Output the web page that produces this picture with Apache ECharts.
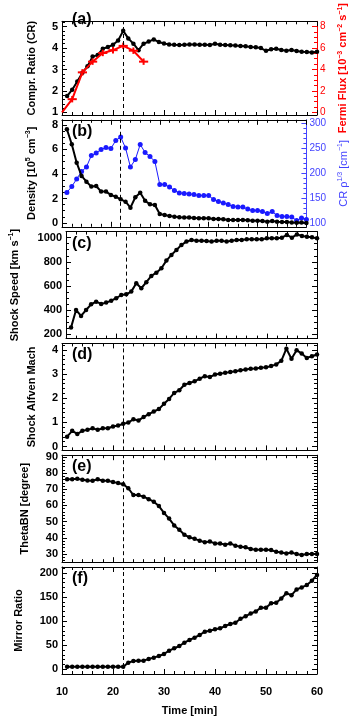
<!DOCTYPE html>
<html>
<head>
<meta charset="utf-8">
<script src="https://cdn.jsdelivr.net/npm/echarts@6/dist/echarts.min.js"></script>
<style>
  html, body { margin: 0; padding: 0; background: #fff; }
  #main { width: 359px; height: 717px; }
</style>
</head>
<body>
<div id="main"></div>
<script>
// time axis (minutes), one sample per minute
const time = [11, 12, 13, 14, 15, 16, 17, 18, 19, 20,
  21, 22, 23, 24, 25, 26, 27, 28, 29, 30,
  31, 32, 33, 34, 35, 36, 37, 38, 39, 40,
  41, 42, 43, 44, 45, 46, 47, 48, 49, 50,
  51, 52, 53, 54, 55, 56, 57, 58, 59, 60]
const shockTime = 22
const timeTicks = [10, 20, 30, 40, 50, 60]

// (a) compression ratio + Fermi flux
const comprRatio = [1.76, 2.06, 2.44, 2.85, 3.15, 3.6, 3.67, 3.97, 4.05, 4.15,
  4.35, 4.8, 4.45, 4.2, 3.9, 4.2, 4.3, 4.4, 4.28, 4.21,
  4.17, 4.15, 4.14, 4.15, 4.17, 4.17, 4.15, 4.15, 4.14, 4.2,
  4.15, 4.14, 4.13, 4.12, 4.1, 4.08, 4.05, 4.04, 4.0, 3.87,
  3.94, 3.97, 3.91, 3.87, 3.91, 3.86, 3.83, 3.82, 3.79, 3.83]
const fermiTime = [10, 12, 14, 16, 18, 20, 22, 24, 26]
const fermiFlux = [0, 1.23, 3.73, 4.73, 5.54, 5.8, 6.2, 5.75, 4.73]
const fermiTimeErr = [0, 0.9, 0.9, 0.9, 0.9, 0.9, 0.9, 0.9, 0.9]
const fermiFluxErr = [0, 0.3, 0.3, 0.3, 0.3, 0.3, 0.3, 0.3, 0.3]

// (b) density + CR rho^1/3
const density = [7.65, 6.42, 4.92, 3.84, 3.37, 2.97, 3.02, 2.56, 2.56, 2.29,
  2.15, 1.93, 1.74, 1.25, 2.1, 2.47, 1.82, 1.52, 1.47, 0.73,
  0.65, 0.57, 0.52, 0.46, 0.44, 0.44, 0.41, 0.38, 0.38, 0.38,
  0.33, 0.33, 0.30, 0.24, 0.24, 0.24, 0.24, 0.22, 0.19, 0.19,
  0.16, 0.11, 0.16, 0.11, 0.08, 0.08, 0.05, 0.03, 0.05, 0.0]
const crRho = [161, 173, 188, 203, 212, 235, 240, 247, 251, 249,
  265, 272, 250, 212, 227, 257, 241, 233, 223, 177,
  177, 172, 165, 160, 159, 158, 157, 155, 155, 155,
  147, 143, 140, 137, 133, 132, 132, 128, 125, 125,
  123, 119, 123, 115, 113, 113, 112, 105, 110, 107]

// (c) shock speed
const shockSpeed = [255, 401, 352, 401, 448, 470, 451, 462, 478, 498,
  525, 531, 553, 622, 581, 631, 683, 710, 746, 810,
  857, 898, 940, 967, 981, 975, 975, 972, 967, 975,
  975, 967, 975, 981, 981, 986, 986, 986, 986, 994,
  994, 994, 1000, 1022, 1000, 1027, 1014, 1008, 1003, 994]

// (d) shock Alfven Mach
const alfvenMach = [0.41, 0.65, 0.52, 0.65, 0.69, 0.76, 0.69, 0.76, 0.76, 0.83,
  0.87, 0.94, 0.99, 1.13, 1.08, 1.22, 1.34, 1.45, 1.55, 1.77,
  1.97, 2.22, 2.33, 2.56, 2.63, 2.70, 2.81, 2.91, 2.88, 2.98,
  3.01, 3.05, 3.09, 3.12, 3.16, 3.19, 3.22, 3.23, 3.26, 3.28,
  3.33, 3.40, 3.55, 4.05, 3.63, 3.99, 3.85, 3.67, 3.74, 3.81]

// (e) ThetaBN
const thetaBN = [76.2, 76.2, 76.4, 75.8, 75.4, 75.2, 76.2, 75.2, 75.2, 74.4,
  73.8, 73.1, 70.6, 66.4, 66.4, 65.4, 63.9, 62.3, 59.6, 55.4,
  51.9, 47.7, 45.0, 41.9, 40.4, 39.4, 38.3, 37.3, 37.7, 36.6,
  36.6, 35.8, 36.6, 35.2, 34.6, 34.2, 33.1, 32.7, 32.7, 32.7,
  32.5, 31.4, 31.0, 30.4, 31.0, 30.0, 29.4, 30.0, 30.0, 30.0]

// (f) mirror ratio
const mirrorRatio = [5.4, 5.4, 5.4, 5.4, 5.4, 5.4, 5.4, 5.4, 5.4, 5.4,
  5.4, 5.4, 13.8, 17.2, 17.9, 17.9, 21.4, 24.2, 27.7, 31.8,
  38.7, 43.6, 48.4, 55.3, 60.9, 65.7, 71.2, 78.1, 80.2, 83,
  85.1, 89.9, 94, 96.8, 105, 110, 116, 120, 128, 128,
  137, 138, 147, 158, 154, 166, 170, 175, 184, 196]

// tick labels
const comprTicks = [1, 2, 3, 4, 5]
const fermiTicks = [0, 2, 4, 6, 8]
const densityTicks = [0, 2, 4, 6, 8]
const crTicks = [100, 150, 200, 250, 300]
const speedTicks = [200, 400, 600, 800, 1000]
const machTicks = [0, 1, 2, 3, 4]
const thetaTicks = [30, 40, 50, 60, 70, 80, 90]
const mirrorTicks = [0, 50, 100, 150, 200]

const FONT = 'Liberation Sans'
const RED = '#ff0000'
const BLUE = '#1a1aff'
const BLUE_TXT = '#4444ff'

const panels = [
  {label: '(a)', min: 0.88, max: 5.245, major: comprTicks, minorStep: 0.2,
    name: 'Compr. Ratio (CR)', gap: 23,
    right: {min: -0.245, max: 8.49, major: fermiTicks, minorStep: 0.5, color: RED, labelWeight: 'normal',
      name: 'Fermi Flux [10{s|\u22123} cm{s|\u22122} s{s|\u22121}]', gap: 15, nameWeight: 'bold'}},
  {label: '(b)', min: -0.31, max: 8.42, major: densityTicks, minorStep: 0.5,
    name: 'Density [10{s|5} cm{s|\u22123}]', gap: 23,
    right: {min: 92.4, max: 306.4, major: crTicks, minorStep: 10, color: BLUE_TXT, labelWeight: 'normal',
      name: 'CR \u03c1{s|1/3} [cm{s|\u22121}]', gap: 22, nameWeight: 'normal'}},
  {label: '(c)', min: 164, max: 1050, major: speedTicks, minorStep: 50,
    name: 'Shock Speed [km s{s|\u22121}]', gap: 44},
  {label: '(d)', min: -0.16, max: 4.27, major: machTicks, minorStep: 0.2,
    name: 'Shock Alfven Mach', gap: 23},
  {label: '(e)', min: 25, max: 91, major: thetaTicks, minorStep: 2,
    name: 'ThetaBN [degree]', gap: 30},
  {label: '(f)', min: -9.8, max: 212.5, major: mirrorTicks, minorStep: 10,
    name: 'Mirror Ratio', gap: 36}
]

function minorValues (cfg) {
  let out = []
  let start = Math.ceil(cfg.min / cfg.minorStep)
  for (let k = start; k * cfg.minorStep <= cfg.max; k++) {
    let v = Math.round(k * cfg.minorStep * 1000) / 1000
    if (cfg.major.indexOf(v) < 0) out.push(v)
  }
  return out
}

function nameStyle (color, weight) {
  return {
    fontFamily: FONT, fontSize: 11, fontWeight: weight, color: color, lineHeight: 14,
    rich: {s: {fontFamily: FONT, fontSize: 7, fontWeight: weight, color: color, lineHeight: 8, verticalAlign: 'top'}}
  }
}

function plain (v) {
  return String(v)
}

function majorY (i, pos, cfg, showLabels) {
  let color = cfg.color || '#000'
  return {
    gridIndex: i, type: 'value', position: pos, min: cfg.min, max: cfg.max,
    name: showLabels ? cfg.name : '', nameLocation: 'middle', nameRotate: 90, nameGap: cfg.gap,
    nameTextStyle: nameStyle(color, cfg.nameWeight || 'bold'),
    axisLine: {show: true, onZero: false, lineStyle: {color: color, width: 1}},
    axisTick: {show: true, inside: true, length: 5, customValues: cfg.major, lineStyle: {color: color, width: 1}},
    axisLabel: {show: showLabels, customValues: cfg.major, margin: pos === 'left' ? 4 : 3, formatter: plain,
      fontFamily: FONT, fontSize: cfg.color ? 10 : 11, fontWeight: cfg.labelWeight || 'bold', color: color},
    splitLine: {show: false}
  }
}

function minorY (i, pos, cfg) {
  let color = cfg.color || '#000'
  return {
    gridIndex: i, type: 'value', position: pos, min: cfg.min, max: cfg.max,
    axisLine: {show: false},
    axisTick: {show: true, inside: true, length: 3, customValues: minorValues(cfg), lineStyle: {color: color, width: 1}},
    axisLabel: {show: false},
    splitLine: {show: false}
  }
}

function xAxisOf (i, pos, showLabels) {
  return {
    gridIndex: i, type: 'value', position: pos, min: 10, max: 60, interval: 10,
    name: showLabels ? 'Time [min]' : '', nameLocation: 'middle', nameGap: 31,
    nameTextStyle: {fontFamily: FONT, fontSize: 11, fontWeight: 'bold', color: '#000'},
    axisLine: {show: true, onZero: false, lineStyle: {color: '#000', width: 1}},
    axisTick: {show: true, inside: true, length: 5, lineStyle: {color: '#000'}},
    minorTick: {show: true, splitNumber: 5, length: 3, lineStyle: {color: '#000'}},
    axisLabel: {show: showLabels, margin: 12, customValues: timeTicks, formatter: plain,
      fontFamily: FONT, fontSize: 11, fontWeight: 'bold', color: '#000'},
    splitLine: {show: false},
    minorSplitLine: {show: false}
  }
}

const panelValues = [comprRatio, density, shockSpeed, alfvenMach, thetaBN, mirrorRatio]

let grids = []
let xAxes = []
let yAxes = []
let series = []
let graphics = []

panels.forEach((p, i) => {
  let top = 8 + i * 111.8
  grids.push({left: 62, width: 255, top: top, height: 107})
  let last = i === panels.length - 1
  xAxes.push(xAxisOf(i, 'bottom', last))
  xAxes.push(xAxisOf(i, 'top', false))
  let leftIdx = yAxes.length
  yAxes.push(majorY(i, 'left', p, true))
  yAxes.push(minorY(i, 'left', p))
  let r = p.right || p
  let rightIdx = yAxes.length
  yAxes.push(majorY(i, 'right', r, !!p.right))
  yAxes.push(minorY(i, 'right', r))

  let values = panelValues[i]
  series.push({
    type: 'line', xAxisIndex: 2 * i, yAxisIndex: leftIdx,
    data: time.map((t, k) => [t, values[k]]),
    symbol: 'circle', symbolSize: 4.5, z: 3,
    lineStyle: {color: '#000', width: 2}, itemStyle: {color: '#000'},
    markLine: {
      silent: true, symbol: 'none', label: {show: false},
      lineStyle: {color: '#000', type: [4, 3], width: 1},
      data: [{xAxis: shockTime}]
    }
  })

  if (i === 0) {
    series.push({
      type: 'line', xAxisIndex: 0, yAxisIndex: rightIdx,
      data: fermiTime.map((t, k) => [t, fermiFlux[k]]),
      symbol: 'none', z: 4,
      lineStyle: {color: RED, width: 2}
    })
    series.push({
      type: 'custom', xAxisIndex: 0, yAxisIndex: rightIdx, z: 4,
      data: fermiTime.map((t, k) => [t, fermiFlux[k], fermiTimeErr[k], fermiFluxErr[k]]),
      renderItem: function (params, api) {
        let x = api.value(0)
        let y = api.value(1)
        let dx = api.value(2)
        let dy = api.value(3)
        if (!dx) return null
        let l = api.coord([x - dx, y])
        let rr = api.coord([x + dx, y])
        let b = api.coord([x, y - dy])
        let t = api.coord([x, y + dy])
        let st = {stroke: RED, lineWidth: 2}
        return {
          type: 'group',
          children: [
            {type: 'line', shape: {x1: l[0], y1: l[1], x2: rr[0], y2: rr[1]}, style: st},
            {type: 'line', shape: {x1: b[0], y1: b[1], x2: t[0], y2: t[1]}, style: st}
          ]
        }
      }
    })
  }
  if (i === 1) {
    series.push({
      type: 'line', xAxisIndex: 2, yAxisIndex: rightIdx,
      data: time.map((t, k) => [t, crRho[k]]),
      symbol: 'circle', symbolSize: 5, z: 2,
      lineStyle: {color: BLUE, width: 1}, itemStyle: {color: BLUE}
    })
  }

  graphics.push({
    type: 'text', left: 72, top: top + 3.5,
    style: {text: p.label, font: 'bold 16px "Liberation Sans"', fill: '#000'}
  })
})

const myChart = echarts.init(document.getElementById('main'))
myChart.setOption({
  animation: false,
  backgroundColor: '#fff',
  grid: grids,
  xAxis: xAxes,
  yAxis: yAxes,
  series: series,
  graphic: graphics
})
</script>
</body>
</html>
